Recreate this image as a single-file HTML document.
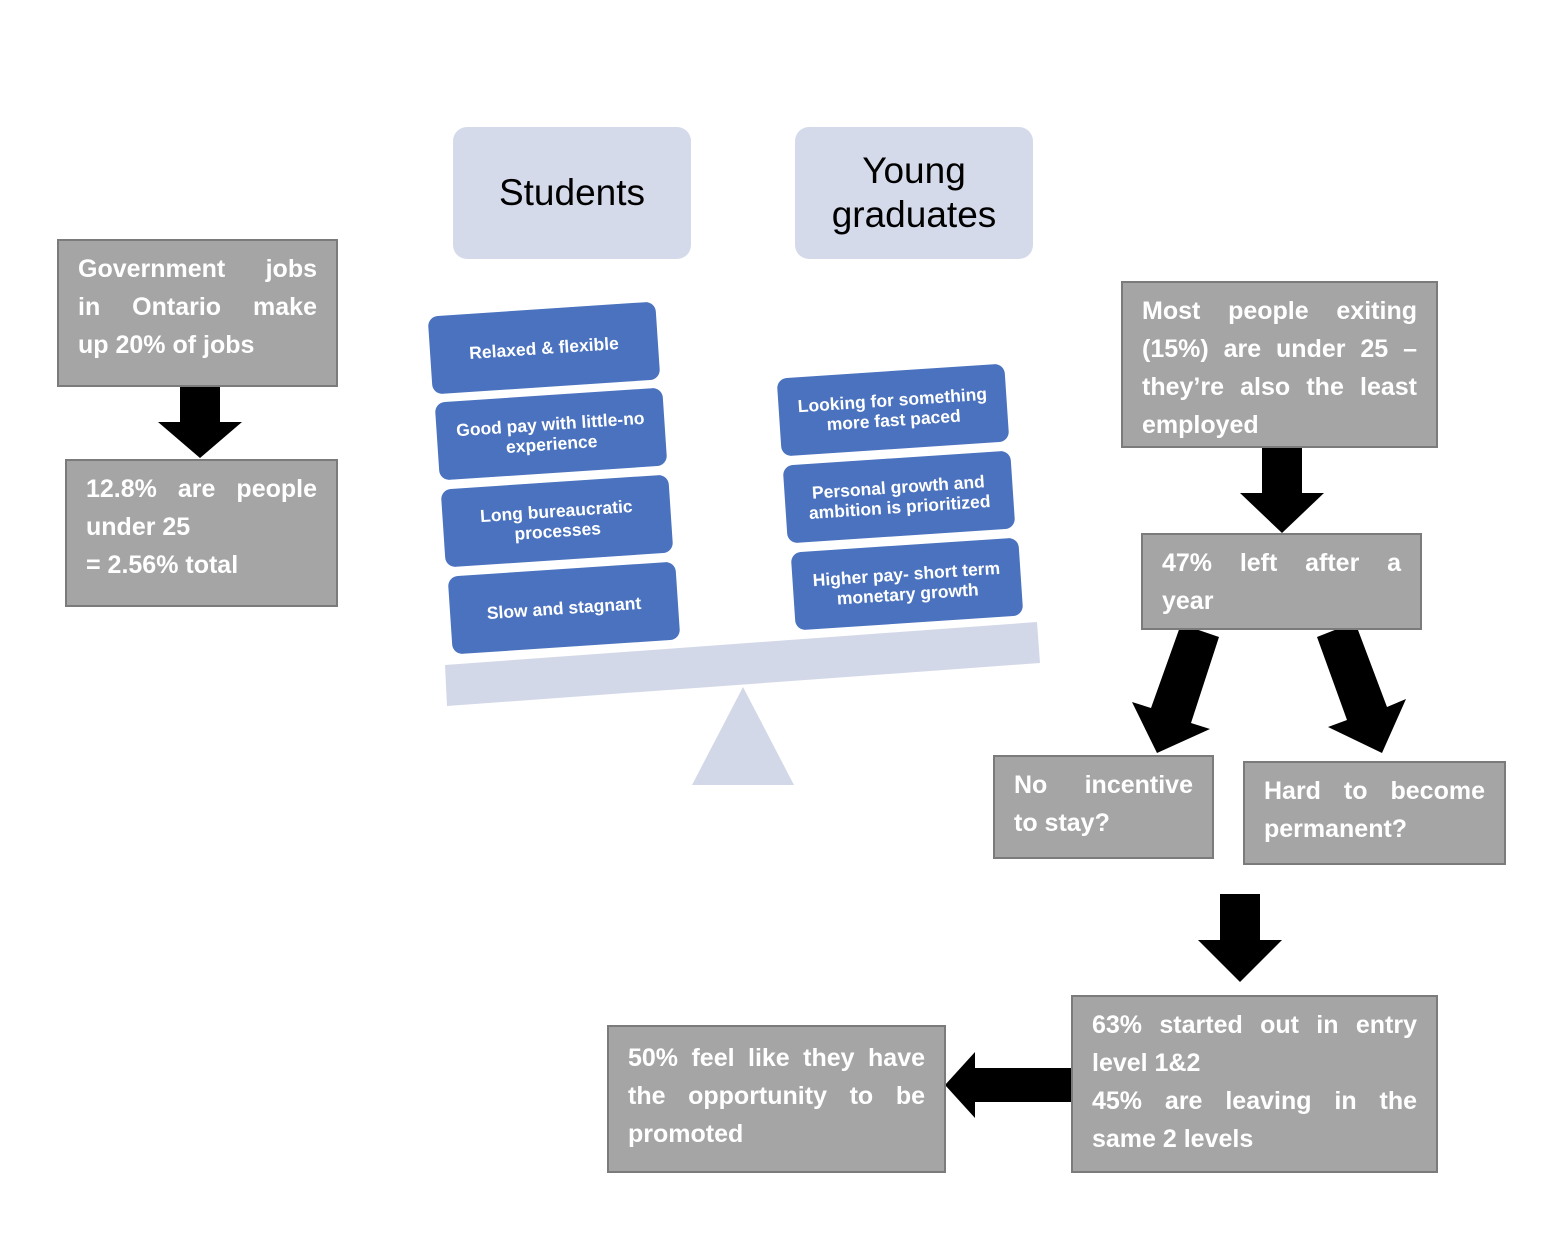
<!DOCTYPE html>
<html><head><meta charset="utf-8"><style>
body{margin:0;width:1550px;height:1240px;background:#fff;position:relative;overflow:hidden;font-family:"Liberation Sans",sans-serif}
.g{position:absolute;background:#a5a5a5;border:2px solid #7b7b7b;box-sizing:border-box;color:#fff;font-weight:bold;font-size:25px;padding:0 20px}
.l{position:absolute;left:19px;right:19px;height:38px;line-height:38px;white-space:nowrap}
.j{text-align:justify;text-align-last:justify}
.h{position:absolute;background:#d5daeb;border-radius:14px;font-size:37px;color:#000;display:flex;align-items:center;justify-content:center;text-align:center;line-height:44px}
.b{position:absolute;width:228px;height:78px;margin-left:-114px;margin-top:-39px;background:#4a72bf;border-radius:10px;color:#fff;font-size:17.5px;font-weight:bold;display:flex;align-items:center;justify-content:center;text-align:center;line-height:20px;transform:rotate(-3.8deg)}
svg{position:absolute;left:0;top:0}
</style></head><body>
<svg width="1550" height="1240">
<polygon points="445,665 1037,622 1040,663 447,706" fill="#d3d8e8"/>
<polygon points="692,785 794,785 743,687" fill="#d3d8e8"/>
<polygon points="180,386 220,386 220,422 242,422 200,458 158,422 180,422" fill="#000"/>
<polygon points="1262,447 1302,447 1302,493 1324,493 1282,533 1240,493 1262,493" fill="#000"/>
<polygon points="1220,894 1260,894 1260,940 1282,940 1240,982 1198,940 1220,940" fill="#000"/>
<polygon points="1072,1068 1072,1102 975,1102 975,1118 945,1085 975,1052 975,1068" fill="#000"/>
<polygon points="1181,624 1219,637 1191,723 1210,729 1157,753 1132,702 1151,708" fill="#000"/>
<polygon points="1317,637 1355,622 1387,707 1406,699 1382,753 1328,727 1347,720" fill="#000"/>
</svg>
<div class="h" style="left:453px;top:127px;width:238px;height:132px">Students</div>
<div class="h" style="left:795px;top:127px;width:238px;height:132px">Young<br>graduates</div>
<div class="b" style="left:544px;top:348px">Relaxed &amp; flexible</div>
<div class="b" style="left:551px;top:434px">Good pay with little-no<br>experience</div>
<div class="b" style="left:557px;top:521px">Long bureaucratic<br>processes</div>
<div class="b" style="left:564px;top:608px">Slow and stagnant</div>
<div class="b" style="left:893px;top:410px">Looking for something<br>more fast paced</div>
<div class="b" style="left:899px;top:497px">Personal growth and<br>ambition is prioritized</div>
<div class="b" style="left:907px;top:584px">Higher pay- short term<br>monetary growth</div>

<div class="g" style="left:57px;top:239px;width:281px;height:148px">
<div class="l j" style="top:9px">Government jobs</div>
<div class="l j" style="top:47px">in Ontario make</div>
<div class="l" style="top:85px">up 20% of jobs</div></div>
<div class="g" style="left:65px;top:459px;width:273px;height:148px">
<div class="l j" style="top:9px">12.8% are people</div>
<div class="l" style="top:47px">under 25</div>
<div class="l" style="top:85px">= 2.56% total</div></div>
<div class="g" style="left:1121px;top:281px;width:317px;height:167px">
<div class="l j" style="top:9px">Most people exiting</div>
<div class="l j" style="top:47px">(15%) are under 25 –</div>
<div class="l j" style="top:85px">they’re also the least</div>
<div class="l" style="top:123px">employed</div></div>
<div class="g" style="left:1141px;top:533px;width:281px;height:97px">
<div class="l j" style="top:9px">47% left after a</div>
<div class="l" style="top:47px">year</div></div>
<div class="g" style="left:993px;top:755px;width:221px;height:104px">
<div class="l j" style="top:9px">No incentive</div>
<div class="l" style="top:47px">to stay?</div></div>
<div class="g" style="left:1243px;top:761px;width:263px;height:104px">
<div class="l j" style="top:9px">Hard to become</div>
<div class="l" style="top:47px">permanent?</div></div>
<div class="g" style="left:1071px;top:995px;width:367px;height:178px">
<div class="l j" style="top:9px">63% started out in entry</div>
<div class="l" style="top:47px">level 1&amp;2</div>
<div class="l j" style="top:85px">45% are leaving in the</div>
<div class="l" style="top:123px">same 2 levels</div></div>
<div class="g" style="left:607px;top:1025px;width:339px;height:148px">
<div class="l j" style="top:12px">50% feel like they have</div>
<div class="l j" style="top:50px">the opportunity to be</div>
<div class="l" style="top:88px">promoted</div></div>
</body></html>
